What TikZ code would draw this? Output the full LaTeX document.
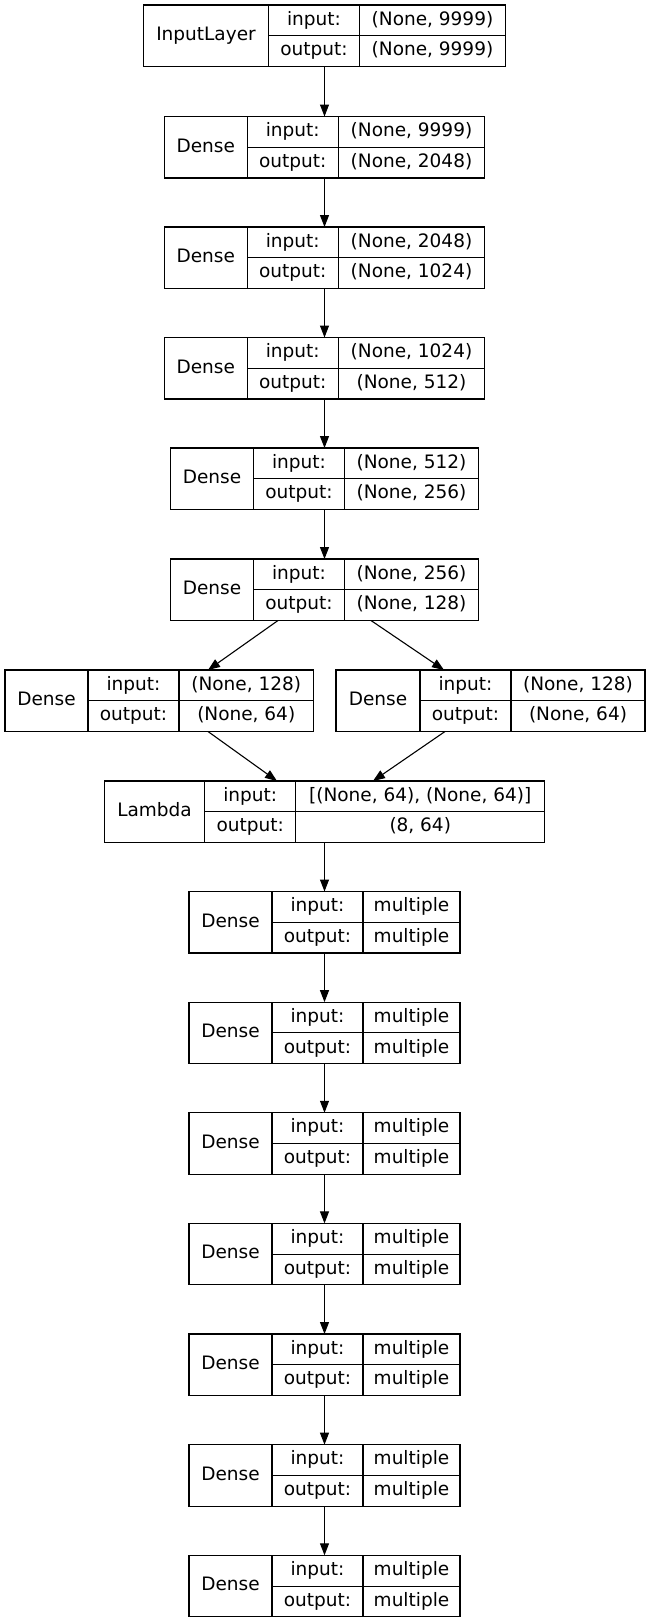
\documentclass[tikz,border=0pt]{standalone}
\usepackage{fontspec}
\setmainfont{DejaVu Sans}
\usetikzlibrary{arrows.meta,fit}
\tikzset{
  cellbox/.style  = {draw, line width=1.1pt, inner sep=0pt, outer sep=0pt,
                     text height=14pt, text depth=4.5pt,
                     font=\fontsize{18.5}{22}\selectfont},
  namecell/.style = {cellbox, minimum height=61.5pt, anchor=north west},
  halfcell/.style = {cellbox, minimum height=30.75pt, anchor=north west},
  layerfit/.style = {inner sep=0pt, outer sep=0pt},
  flow/.style     = {-{Triangle[length=12pt,width=9pt]}, line width=1.1pt}
}
% #1 name, #2 left, #3 top, #4-#6 cell widths, #7 layer, #8 input, #9 output
\newcommand{\keraslayer}[9]{%
  \node[namecell, minimum width=#4pt] (#1-n) at (#2,#3) {#7};
  \node[halfcell, minimum width=#5pt] (#1-il) at (#1-n.north east) {input:};
  \node[halfcell, minimum width=#5pt] (#1-ol) at (#1-il.south west) {output:};
  \node[halfcell, minimum width=#6pt] (#1-iv) at (#1-il.north east) {#8};
  \node[halfcell, minimum width=#6pt] (#1-ov) at (#1-iv.south west) {#9};
  \node[layerfit, fit=(#1-n)(#1-ov)] (#1) {};
}
\begin{document}
\begin{tikzpicture}[x=1pt, y=-1pt]
  \useasboundingbox (0,0) rectangle (651,1623);
  \keraslayer{inp}{143.5}{5}{125}{91}{146}{InputLayer}{(None, 9999)}{(None, 9999)}
  \keraslayer{d1}{164.25}{116.5}{83}{91}{146.5}{Dense}{(None, 9999)}{(None, 2048)}
  \keraslayer{d2}{164.25}{227}{83}{91}{146.5}{Dense}{(None, 2048)}{(None, 1024)}
  \keraslayer{d3}{164.25}{337.5}{83}{91}{146.5}{Dense}{(None, 1024)}{(None, 512)}
  \keraslayer{d4}{170.5}{448}{83}{91}{134}{Dense}{(None, 512)}{(None, 256)}
  \keraslayer{d5}{170.5}{559}{83}{91}{134}{Dense}{(None, 256)}{(None, 128)}
  \keraslayer{d6}{5}{670}{83}{91}{134.5}{Dense}{(None, 128)}{(None, 64)}
  \keraslayer{d7}{336}{670}{84}{91}{134}{Dense}{(None, 128)}{(None, 64)}
  \keraslayer{lam}{104.25}{781}{100.5}{91}{249}{Lambda}{[(None, 64), (None, 64)]}{(8, 64)}
  % the seven shared Dense layers
  \foreach \i in {1,...,7}{
    \pgfmathsetmacro\ytop{891.5+110.63*(\i-1)}
    \keraslayer{m\i}{189}{\ytop}{83}{91}{97}{Dense}{multiple}{multiple}
  }

  \draw[flow] (inp) -- (d1);
  \draw[flow] (d1) -- (d2);
  \draw[flow] (d2) -- (d3);
  \draw[flow] (d3) -- (d4);
  \draw[flow] (d4) -- (d5);
  \draw[flow] ([xshift=-46.5pt]d5.south) -- ([xshift=48.75pt]d6.north);
  \draw[flow] ([xshift=46.5pt]d5.south) -- ([xshift=-46.5pt]d7.north);
  \draw[flow] ([xshift=48.75pt]d6.south) -- ([xshift=-47.5pt]lam.north);
  \draw[flow] ([xshift=-45.5pt]d7.south) -- ([xshift=48.5pt]lam.north);
  \draw[flow] (lam) -- (m1);
  \foreach \i [count=\j from 2] in {1,...,6}
    \draw[flow] (m\i) -- (m\j);
\end{tikzpicture}
\end{document}
